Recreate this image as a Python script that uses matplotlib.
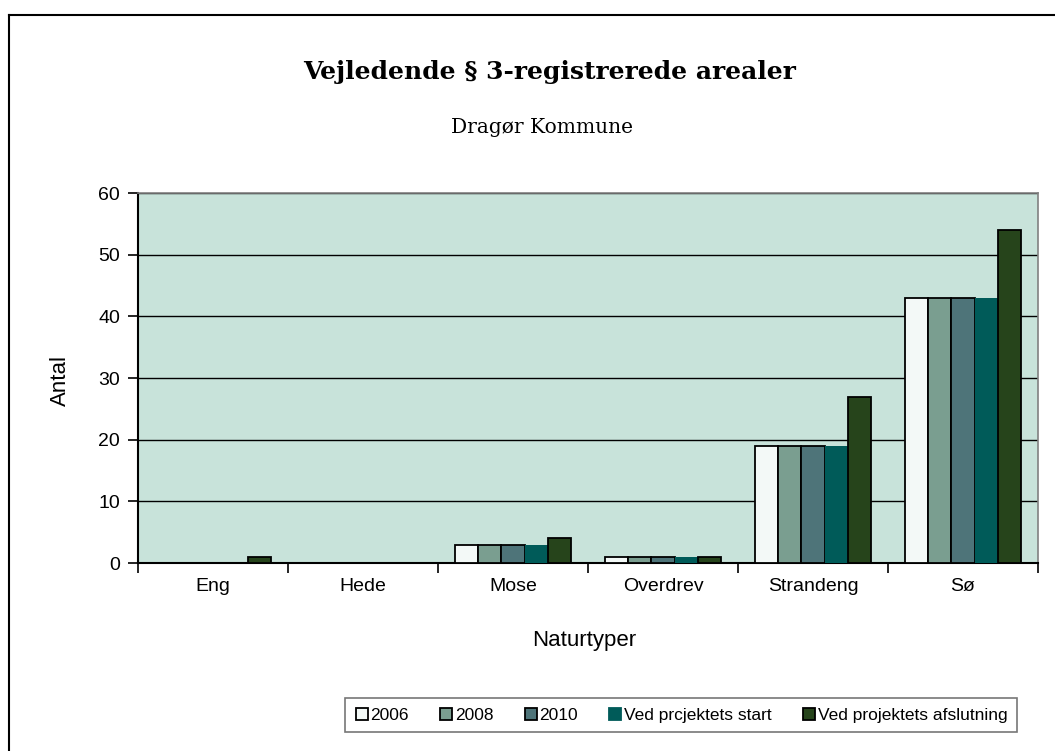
import numpy as np
import matplotlib.pyplot as plt
from matplotlib.lines import Line2D

# data
categories = ['Eng', 'Hede', 'Mose', 'Overdrev', 'Strandeng', 'Sø']
series_names = ['2006', '2008', '2010', 'Ved prcjektets start', 'Ved projektets afslutning']
v2006 = [0, 0, 3, 1, 19, 43]
v2008 = [0, 0, 3, 1, 19, 43]
v2010 = [0, 0, 3, 1, 19, 43]
v_start = [0, 0, 3, 1, 19, 43]
v_slut = [1, 0, 4, 1, 27, 54]
yticks = [0, 10, 20, 30, 40, 50, 60]

colors = ['#f3f9f7', '#7a9e90', '#4e7479', '#005b59', '#26441b']
edge_w = [1.3, 1.3, 1.3, 0.0, 1.3]

plt.rcParams['font.family'] = ['Liberation Sans', 'DejaVu Sans']

fig = plt.figure(figsize=(10.55, 7.51), dpi=100)
ax = fig.add_axes([0.1308, 0.2503, 0.8531, 0.4927])
ax.set_facecolor('#c8e3da')

x = np.arange(len(categories))
w = 0.155
all_vals = [v2006, v2008, v2010, v_start, v_slut]
handles = []
for i, vals in enumerate(all_vals):
    off = (i - 2) * w
    ax.bar(x + off, vals, width=w, color=colors[i], edgecolor='black',
           linewidth=edge_w[i], zorder=3)
    handles.append(Line2D([], [], marker='s', linestyle='none', markersize=8,
                          markerfacecolor=colors[i],
                          markeredgecolor='black' if edge_w[i] else colors[i],
                          markeredgewidth=1.3))

ax.set_xlim(-0.5, len(categories) - 0.5)
ax.set_ylim(0, 60)
ax.set_yticks(yticks)
ax.yaxis.grid(True, color='black', linewidth=1.0, zorder=1)
ax.set_axisbelow(True)

# ticks between categories, labels at centres
ax.set_xticks(np.arange(-0.5, len(categories), 1.0))
ax.set_xticklabels([])
ax.set_xticks(x, minor=True)
ax.set_xticklabels(categories, minor=True, fontsize=14)
ax.tick_params(axis='x', which='minor', length=0, pad=11)
ax.tick_params(axis='x', which='major', length=7, width=1.2, color='black')
ax.tick_params(axis='y', labelsize=14, length=7, width=1.2, pad=6)

for s in ['top', 'right']:
    ax.spines[s].set_color('#808080')
    ax.spines[s].set_linewidth(1.2)
for s in ['left', 'bottom']:
    ax.spines[s].set_color('black')
    ax.spines[s].set_linewidth(1.5)

fig.text(0.057, 0.494, 'Antal', rotation=90, ha='center', va='center', fontsize=16)
fig.text(0.5536, 0.147, 'Naturtyper', ha='center', va='center', fontsize=16)

fig.text(0.521, 0.904, 'Vejledende § 3-registrerede arealer', ha='center', va='center',
         fontsize=18, fontweight='bold', family='DejaVu Serif')
fig.text(0.514, 0.830, 'Dragør Kommune', ha='center', va='center',
         fontsize=14.5, family='DejaVu Serif')

leg = fig.legend(handles, series_names, loc='center', bbox_to_anchor=(0.6455, 0.0479),
                 ncol=5, fontsize=12.5, frameon=True, fancybox=False, handlelength=0.8,
                 handletextpad=0.1, columnspacing=1.75, borderpad=0.55)
leg.get_frame().set_edgecolor('#555555')
leg.get_frame().set_linewidth(1.2)

# outer frame (top and left only)
fig.add_artist(Line2D([9 / 1055, 1.0], [1 - 15 / 751, 1 - 15 / 751],
                      transform=fig.transFigure, color='black', linewidth=1.5))
fig.add_artist(Line2D([9 / 1055, 9 / 1055], [0.0, 1 - 15 / 751],
                      transform=fig.transFigure, color='black', linewidth=1.5))

plt.savefig('out.png', dpi=100)
